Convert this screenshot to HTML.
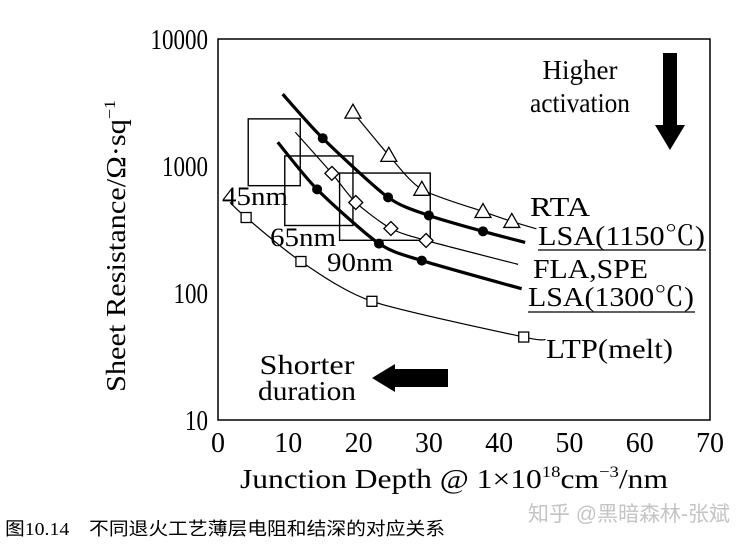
<!DOCTYPE html>
<html><head><meta charset="utf-8"><style>
body{margin:0;background:#fff;}
svg{display:block;font-family:"Liberation Serif","Noto Serif CJK SC",serif;}
</style></head><body>
<svg id="chart" width="748" height="545" viewBox="0 0 748 545">
<rect x="218" y="39" width="492" height="381" fill="none" stroke="#000" stroke-width="1.5"/>
<g id="ticks"></g>
<text transform="translate(125,246) rotate(-90)" text-anchor="middle" font-size="27" textLength="292" lengthAdjust="spacingAndGlyphs">Sheet Resistance/Ω·sq<tspan dy="-10" font-size="16">−1</tspan></text>
<text x="240" y="488" font-size="27" textLength="428" lengthAdjust="spacingAndGlyphs">Junction Depth @ 1×10<tspan dy="-11" font-size="16">18</tspan><tspan dy="11">cm</tspan><tspan dy="-11" font-size="16">−3</tspan><tspan dy="11">/nm</tspan></text>
<g id="boxes"></g>
<g id="series"></g>
<g font-size="27">
<text x="530" y="216" textLength="60" lengthAdjust="spacingAndGlyphs">RTA</text>
<text x="538" y="245" textLength="167" lengthAdjust="spacingAndGlyphs">LSA(1150℃)</text>
<line x1="538" y1="250" x2="706" y2="250" stroke="#000" stroke-width="1.2"/>
<text x="533" y="278" textLength="115" lengthAdjust="spacingAndGlyphs">FLA,SPE</text>
<text x="528" y="306" textLength="166" lengthAdjust="spacingAndGlyphs">LSA(1300℃)</text>
<line x1="528" y1="312" x2="695" y2="312" stroke="#000" stroke-width="1.2"/>
<text x="546" y="358" textLength="127" lengthAdjust="spacingAndGlyphs">LTP(melt)</text>
</g>
<g font-size="26">
<text x="222" y="205" textLength="66" lengthAdjust="spacingAndGlyphs">45nm</text>
<text x="270" y="246" textLength="66" lengthAdjust="spacingAndGlyphs">65nm</text>
<text x="327" y="271" textLength="66" lengthAdjust="spacingAndGlyphs">90nm</text>
</g>
<g font-size="27" text-anchor="middle">
<text x="580" y="79">Higher</text>
<text x="580" y="112" textLength="100" lengthAdjust="spacingAndGlyphs">activation</text>
</g>
<polygon points="663,53 677,53 677,125 685,125 670,150 655,125 663,125" fill="#000"/>
<g font-size="27" text-anchor="middle">
<text x="307" y="374" textLength="95" lengthAdjust="spacingAndGlyphs">Shorter</text>
<text x="307" y="400" textLength="98" lengthAdjust="spacingAndGlyphs">duration</text>
</g>
<polygon points="372,378 395,364 395,369 448,369 448,387 395,387 395,392" fill="#000"/>
<text x="5" y="535" font-size="18" textLength="440" lengthAdjust="spacingAndGlyphs" font-family="Liberation Serif, Noto Sans CJK SC, sans-serif">图10.14　不同退火工艺薄层电阻和结深的对应关系</text>
<text x="528" y="521" font-size="21" textLength="202" lengthAdjust="spacingAndGlyphs" fill="#c4c4c4" font-family="Liberation Sans, Noto Sans CJK SC, sans-serif">知乎 @黑暗森林-张斌</text>
</svg>
<script>
const xTicks=[0,10,20,30,40,50,60,70];
const yTicks=[10,100,1000,10000];
// series: first/last entries are line extensions without markers
const rtaX=[19.2,24.3,29.0,37.7,41.8,45.3];
const rtaY=[2655,1213,655,438,366,320];
const lsa1150X=[9.2,14.9,24.2,30.0,37.7,43.7];
const lsa1150Y=[3680,1655,566,408,306,250];
const flaX=[11.0,16.2,19.6,24.6,29.6,42.7];
const flaY=[1845,875,516,322,259,168];
const lsa1300X=[8.5,14.1,22.9,29.0,43.2];
const lsa1300Y=[1538,655,245,180,108];
const ltpX=[1.7,4.0,11.8,21.9,43.5,46.6];
const ltpY=[516,393,177,86,45,43];
const boxX0=[4.3,9.5,17.3];const boxX1=[11.7,19.2,30.2];
const boxY0=[2350,1200,880];const boxY1=[700,340,260];

const NS="http://www.w3.org/2000/svg";
const X0=218,X1=710,Y0=420,Y1=39;
const sx=v=>X0+(v-0)/(70-0)*(X1-X0);
const sy=v=>Y0-(Math.log10(v)-1)/3*(Y0-Y1);
function mk(tag,attrs,parent){const e=document.createElementNS(NS,tag);for(const k in attrs)e.setAttribute(k,attrs[k]);parent.appendChild(e);return e;}
const ticks=document.getElementById('ticks');
xTicks.forEach(t=>{const e=mk('text',{x:sx(t),y:452,'text-anchor':'middle','font-size':'28'},ticks);e.textContent=t;

});
yTicks.forEach(t=>{const e=mk('text',{x:208,y:sy(t)+10,'text-anchor':'end','font-size':'28',textLength:String(t).length*11.5,lengthAdjust:'spacingAndGlyphs'},ticks);e.textContent=t;

});
const boxes=document.getElementById('boxes');
boxX0.forEach((b,i)=>{const r=mk('rect',{x:sx(b),y:sy(boxY0[i]),width:sx(boxX1[i])-sx(b),height:sy(boxY1[i])-sy(boxY0[i]),fill:'none',stroke:'#000','stroke-width':1.4},boxes);

});
function path(px,py){const k=8;let d=`M${px[0]},${py[0]}`;for(let i=0;i<px.length-1;i++){const p0=[px[Math.max(i-1,0)],py[Math.max(i-1,0)]],p1=[px[i],py[i]],p2=[px[i+1],py[i+1]],p3=[px[Math.min(i+2,px.length-1)],py[Math.min(i+2,px.length-1)]];
const c1=[p1[0]+(p2[0]-p0[0])/k,p1[1]+(p2[1]-p0[1])/k],c2=[p2[0]-(p3[0]-p1[0])/k,p2[1]-(p3[1]-p1[1])/k];d+=` C${c1} ${c2} ${p2}`;}return d;}
const g=document.getElementById('series');
function series(name,xs,ys,w,marker,from,to){const px=xs.map(sx),py=ys.map(sy);
const p=mk('path',{d:path(px,py),fill:'none',stroke:'#000','stroke-width':w},g);


for(let i=from;i<=to;i++){const x=px[i],y=py[i];let m;
if(marker==='tri')m=mk('polygon',{points:`${x},${y-8} ${x-8},${y+6} ${x+8},${y+6}`,fill:'#fff',stroke:'#000','stroke-width':1.3},g);
else if(marker==='dot')m=mk('circle',{cx:x,cy:y,r:5,fill:'#000'},g);
else if(marker==='dia')m=mk('polygon',{points:`${x},${y-7} ${x+7},${y} ${x},${y+7} ${x-7},${y}`,fill:'#fff',stroke:'#000','stroke-width':1.3},g);
else m=mk('rect',{x:x-5,y:y-5,width:10,height:10,fill:'#fff',stroke:'#000','stroke-width':1.3},g);

}}
series('rta',rtaX,rtaY,1.2,'tri',0,4);
series('lsa1150',lsa1150X,lsa1150Y,3.2,'dot',1,4);
series('fla-spe',flaX,flaY,1.2,'dia',1,4);
series('lsa1300',lsa1300X,lsa1300Y,3.2,'dot',1,3);
series('ltp-melt',ltpX,ltpY,1.2,'sq',1,4);
</script>
</body></html>
